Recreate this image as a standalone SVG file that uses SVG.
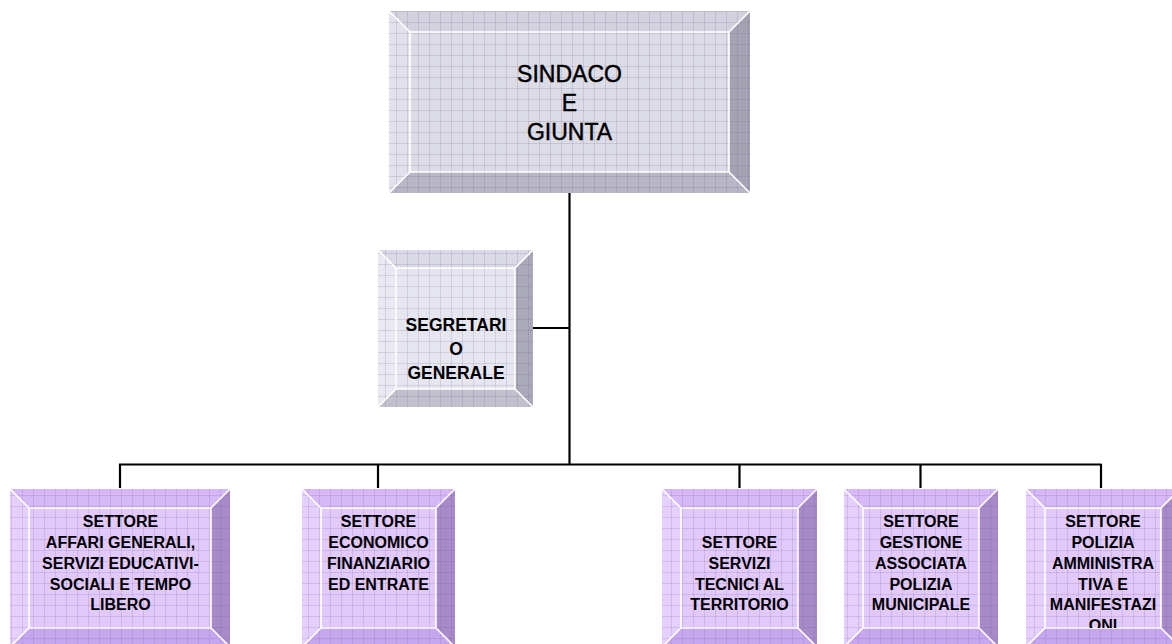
<svg xmlns="http://www.w3.org/2000/svg" width="1172" height="644" viewBox="0 0 1172 644">
<style>
.lbl{font-family:"Liberation Sans",Arial,sans-serif;fill:#000;text-anchor:middle}
.top{font-size:23px;stroke:#000;stroke-width:0.45}
.sec{font-size:17.5px;font-weight:bold}
.set{font-size:16px;font-weight:bold}
.hl{fill:none;stroke:#fff;stroke-width:1.6}
.conn{stroke:#000;stroke-width:2.2;fill:none}
.g-face{fill:#dcdce7}.g-top{fill:#d2d2de}.g-left{fill:#e2e2ec}.g-right{fill:#a3a3b4}.g-bot{fill:#b7b7c6}
.s-face{fill:#e6e6f1}.s-top{fill:#dadae6}.s-left{fill:#e9e9f2}.s-right{fill:#a9a9b9}.s-bot{fill:#c1c1cd}
.p-face{fill:#e2c9fb}.p-top{fill:#d6b8f7}.p-left{fill:#e5cffc}.p-right{fill:#a889ca}.p-bot{fill:#c7a6f0}
.grid{fill:url(#grid)}
</style>
<defs>
<pattern id="grid" patternUnits="userSpaceOnUse" width="11" height="11">
<path d="M0 0.5H11M0.5 0V11" stroke="#6a5a8a" stroke-opacity="0.18" stroke-width="1" fill="none"/>
</pattern>
<clipPath id="clip5"><rect x="1045" y="508" width="116" height="120"/></clipPath>
</defs>
<rect width="1172" height="644" fill="#fff"/>

<g id="connectors">
<path class="conn" d="M569.5 193V465"/>
<path class="conn" d="M533 328H569.5"/>
<path class="conn" d="M119 464.5H1101.5"/>
<path class="conn" d="M120 464V488M378 464V488M739.5 464V488M920.5 464V488M1101 464V488"/>
</g>

<g id="sindaco">
<rect class="g-face" x="389" y="11" width="361" height="182"/>
<polygon class="g-top" points="389,11 750,11 729,32 410,32"/>
<polygon class="g-right" points="750,11 750,193 729,172 729,32"/>
<polygon class="g-bot" points="389,193 750,193 729,172 410,172"/>
<polygon class="g-left" points="389,11 410,32 410,172 389,193"/>
<rect class="grid" x="389" y="11" width="361" height="182"/>
<path class="hl" d="M410 32H729V172H410Z M389 11L410 32 M750 11L729 32 M750 193L729 172 M389 193L410 172"/>
<text class="lbl top" x="569.5" y="82">SINDACO</text>
<text class="lbl top" x="569.5" y="111">E</text>
<text class="lbl top" x="569.5" y="140">GIUNTA</text>
</g>

<g id="segretario">
<rect class="s-face" x="378" y="250" width="155" height="157"/>
<polygon class="s-top" points="378,250 533,250 515,268 396,268"/>
<polygon class="s-right" points="533,250 533,407 515,389 515,268"/>
<polygon class="s-bot" points="378,407 533,407 515,389 396,389"/>
<polygon class="s-left" points="378,250 396,268 396,389 378,407"/>
<rect class="grid" x="378" y="250" width="155" height="157"/>
<path class="hl" d="M396 268H515V389H396Z M378 250L396 268 M533 250L515 268 M533 407L515 389 M378 407L396 389"/>
<text class="lbl sec" x="456" y="331">SEGRETARI</text>
<text class="lbl sec" x="456" y="355">O</text>
<text class="lbl sec" x="456" y="379">GENERALE</text>
</g>

<g id="settore-affari-generali">
<rect class="p-face" x="10" y="489" width="220" height="158"/>
<polygon class="p-top" points="10,489 230,489 211,508 29,508"/>
<polygon class="p-right" points="230,489 230,647 211,628 211,508"/>
<polygon class="p-bot" points="10,647 230,647 211,628 29,628"/>
<polygon class="p-left" points="10,489 29,508 29,628 10,647"/>
<rect class="grid" x="10" y="489" width="220" height="158"/>
<path class="hl" d="M29 508H211V628H29Z M10 489L29 508 M230 489L211 508 M230 647L211 628 M10 647L29 628"/>
<text class="lbl set" x="120.5" y="527">SETTORE</text>
<text class="lbl set" x="120.5" y="548">AFFARI GENERALI,</text>
<text class="lbl set" x="120.5" y="569">SERVIZI EDUCATIVI-</text>
<text class="lbl set" x="120.5" y="590">SOCIALI E TEMPO</text>
<text class="lbl set" x="120.5" y="610">LIBERO</text>
</g>

<g id="settore-economico">
<rect class="p-face" x="302" y="489" width="153" height="158"/>
<polygon class="p-top" points="302,489 455,489 436,508 321,508"/>
<polygon class="p-right" points="455,489 455,647 436,628 436,508"/>
<polygon class="p-bot" points="302,647 455,647 436,628 321,628"/>
<polygon class="p-left" points="302,489 321,508 321,628 302,647"/>
<rect class="grid" x="302" y="489" width="153" height="158"/>
<path class="hl" d="M321 508H436V628H321Z M302 489L321 508 M455 489L436 508 M455 647L436 628 M302 647L321 628"/>
<text class="lbl set" x="378.5" y="527">SETTORE</text>
<text class="lbl set" x="378.5" y="548">ECONOMICO</text>
<text class="lbl set" x="378.5" y="569">FINANZIARIO</text>
<text class="lbl set" x="378.5" y="590">ED ENTRATE</text>
</g>

<g id="settore-servizi-tecnici">
<rect class="p-face" x="662" y="489" width="155" height="158"/>
<polygon class="p-top" points="662,489 817,489 798,508 681,508"/>
<polygon class="p-right" points="817,489 817,647 798,628 798,508"/>
<polygon class="p-bot" points="662,647 817,647 798,628 681,628"/>
<polygon class="p-left" points="662,489 681,508 681,628 662,647"/>
<rect class="grid" x="662" y="489" width="155" height="158"/>
<path class="hl" d="M681 508H798V628H681Z M662 489L681 508 M817 489L798 508 M817 647L798 628 M662 647L681 628"/>
<text class="lbl set" x="739.5" y="548">SETTORE</text>
<text class="lbl set" x="739.5" y="569">SERVIZI</text>
<text class="lbl set" x="739.5" y="590">TECNICI AL</text>
<text class="lbl set" x="739.5" y="610">TERRITORIO</text>
</g>

<g id="settore-polizia-municipale">
<rect class="p-face" x="844" y="489" width="154" height="158"/>
<polygon class="p-top" points="844,489 998,489 979,508 863,508"/>
<polygon class="p-right" points="998,489 998,647 979,628 979,508"/>
<polygon class="p-bot" points="844,647 998,647 979,628 863,628"/>
<polygon class="p-left" points="844,489 863,508 863,628 844,647"/>
<rect class="grid" x="844" y="489" width="154" height="158"/>
<path class="hl" d="M863 508H979V628H863Z M844 489L863 508 M998 489L979 508 M998 647L979 628 M844 647L863 628"/>
<text class="lbl set" x="921" y="527">SETTORE</text>
<text class="lbl set" x="921" y="548">GESTIONE</text>
<text class="lbl set" x="921" y="569">ASSOCIATA</text>
<text class="lbl set" x="921" y="590">POLIZIA</text>
<text class="lbl set" x="921" y="610">MUNICIPALE</text>
</g>

<g id="settore-polizia-amministrativa">
<rect class="p-face" x="1026" y="489" width="154" height="158"/>
<polygon class="p-top" points="1026,489 1180,489 1161,508 1045,508"/>
<polygon class="p-right" points="1180,489 1180,647 1161,628 1161,508"/>
<polygon class="p-bot" points="1026,647 1180,647 1161,628 1045,628"/>
<polygon class="p-left" points="1026,489 1045,508 1045,628 1026,647"/>
<rect class="grid" x="1026" y="489" width="154" height="158"/>
<path class="hl" d="M1045 508H1161V628H1045Z M1026 489L1045 508 M1180 489L1161 508 M1180 647L1161 628 M1026 647L1045 628"/>
<g clip-path="url(#clip5)">
<text class="lbl set" x="1103" y="527">SETTORE</text>
<text class="lbl set" x="1103" y="548">POLIZIA</text>
<text class="lbl set" x="1103" y="569">AMMINISTRA</text>
<text class="lbl set" x="1103" y="590">TIVA E</text>
<text class="lbl set" x="1103" y="610">MANIFESTAZI</text>
<text class="lbl set" x="1103" y="631">ONI</text>
</g>
</g>
</svg>
